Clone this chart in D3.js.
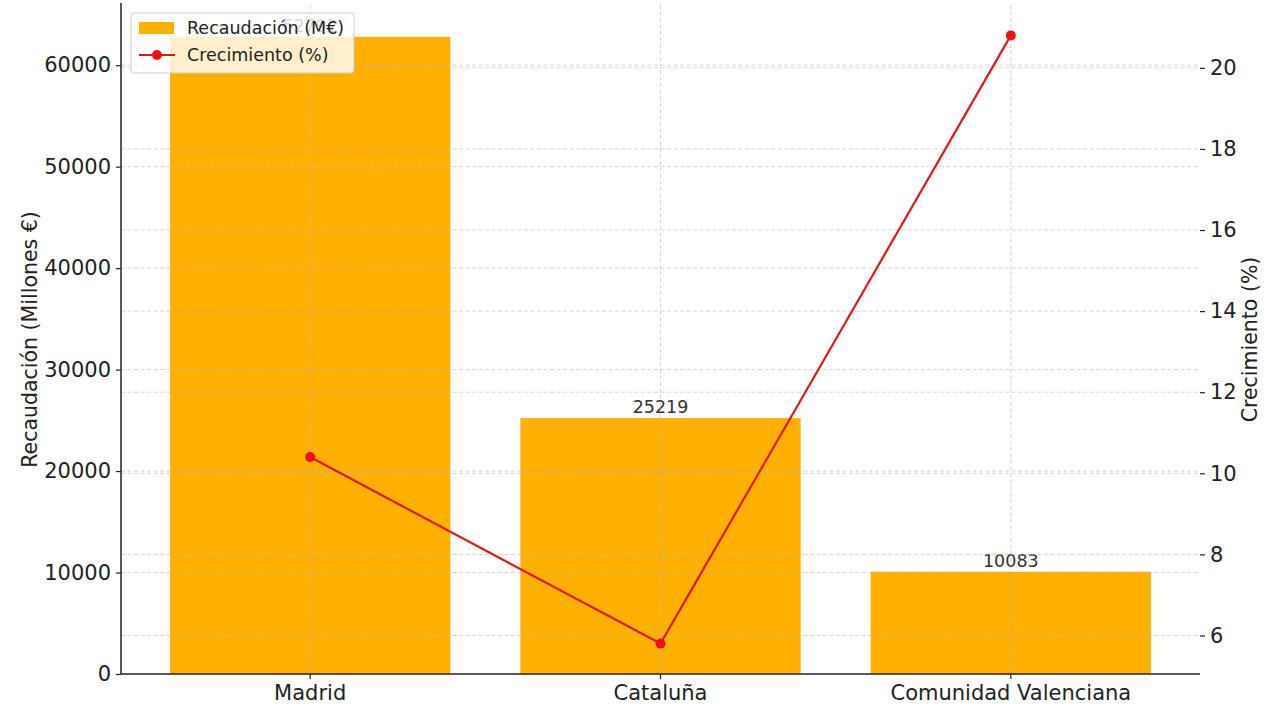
<!DOCTYPE html>
<html>
<head>
<meta charset="utf-8">
<script src="https://cdn.jsdelivr.net/npm/d3@7"></script>
<style>
  html, body { margin: 0; padding: 0; background: #fff; }
  svg { display: block; font-family: "DejaVu Sans", sans-serif; }
</style>
</head>
<body>
<svg id="chart" width="1280" height="720"></svg>
<script>
const categories = ["Madrid", "Cataluña", "Comunidad Valenciana"];
const recaudacion = [62792, 25219, 10083];
const crecimiento = [10.4, 5.8, 20.8];
const leftTicks = [0, 10000, 20000, 30000, 40000, 50000, 60000];
const rightTicks = [6, 8, 10, 12, 14, 16, 18, 20];

const svg = d3.select("#chart");
const L = 121, R = 1200, T = 5, B = 674;

const x = d3.scaleBand().domain(categories).range([L, R]).paddingInner(0.2).paddingOuter(0.14);
const yL = d3.scaleLinear().domain([0, d3.max(recaudacion) * 1.05]).range([B, T]);
const cMin = d3.min(crecimiento), cMax = d3.max(crecimiento), cPad = (cMax - cMin) * 0.05;
const yR = d3.scaleLinear().domain([cMin - cPad, cMax + cPad]).range([B, T]);

// bars
svg.append("g").selectAll("rect").data(categories).join("rect")
  .attr("x", d => x(d)).attr("width", x.bandwidth())
  .attr("y", (d, i) => yL(recaudacion[i]))
  .attr("height", (d, i) => B - yL(recaudacion[i]))
  .attr("fill", "#FFB000");

// bar labels
svg.append("g").selectAll("text").data(categories).join("text")
  .attr("x", d => x(d) + x.bandwidth() / 2)
  .attr("y", (d, i) => yL(recaudacion[i]) - 5)
  .attr("text-anchor", "middle")
  .attr("font-size", 17.5).attr("fill", "#333")
  .text((d, i) => recaudacion[i]);

// grid (on top of bars, translucent)
const grid = svg.append("g").attr("stroke", "#b0b0b0").attr("stroke-opacity", 0.55)
  .attr("stroke-width", 1).attr("stroke-dasharray", "4,2.5");
grid.selectAll(".gl").data(leftTicks.filter(t => t > 0)).join("line")
  .attr("x1", L).attr("x2", R).attr("y1", d => yL(d)).attr("y2", d => yL(d));
grid.selectAll(".gr").data(rightTicks).join("line").attr("class", "gr")
  .attr("x1", L).attr("x2", R).attr("y1", d => yR(d)).attr("y2", d => yR(d));
grid.selectAll(".gv").data(categories).join("line").attr("class", "gv")
  .attr("x1", d => x(d) + x.bandwidth() / 2).attr("x2", d => x(d) + x.bandwidth() / 2)
  .attr("y1", T).attr("y2", B);

// axes
const axL = svg.append("g").attr("transform", `translate(${L},0)`)
  .call(d3.axisLeft(yL).tickValues(leftTicks).tickSize(5).tickPadding(5).tickFormat(d3.format("d")));
const axR = svg.append("g").attr("transform", `translate(${R},0)`)
  .call(d3.axisRight(yR).tickValues(rightTicks).tickSize(5).tickPadding(5).tickFormat(d3.format("d")));
const axB = svg.append("g").attr("transform", `translate(0,${B})`)
  .call(d3.axisBottom(x).tickSize(5).tickPadding(6));
[axL, axR, axB].forEach(a => {
  a.selectAll("text").attr("font-size", 21).attr("fill", "#222").attr("font-family", "DejaVu Sans");
  a.selectAll(".tick line").attr("stroke", "#222").attr("stroke-width", 1.2);
});
axL.select(".domain").attr("stroke", "#222").attr("stroke-width", 1.5).attr("d", `M0,${B}V${T - 2}`);
axR.select(".domain").remove();
axB.select(".domain").attr("stroke", "#222").attr("stroke-width", 1.5).attr("d", `M${L},0H${R}`);

// axis titles
svg.append("text").attr("transform", `translate(37,${(T + B) / 2}) rotate(-90)`)
  .attr("text-anchor", "middle").attr("font-size", 20.5).attr("fill", "#222")
  .text("Recaudación (Millones €)");
svg.append("text").attr("transform", `translate(1257,${(T + B) / 2}) rotate(-90)`)
  .attr("text-anchor", "middle").attr("font-size", 20.5).attr("fill", "#222")
  .text("Crecimiento (%)");

// line
const cx = d => x(d) + x.bandwidth() / 2;
svg.append("path").datum(categories)
  .attr("d", d3.line().x(d => cx(d)).y((d, i) => yR(crecimiento[i])))
  .attr("fill", "none").attr("stroke", "#e01818").attr("stroke-width", 2.2);
svg.append("g").selectAll("circle").data(categories).join("circle")
  .attr("cx", d => cx(d)).attr("cy", (d, i) => yR(crecimiento[i]))
  .attr("r", 5).attr("fill", "#f01010");

// legend
const lg = svg.append("g");
lg.append("rect").attr("x", 131).attr("y", 13).attr("width", 223).attr("height", 60).attr("rx", 3)
  .attr("fill", "#fff").attr("fill-opacity", 0.8).attr("stroke", "#ccc").attr("stroke-width", 1);
lg.append("rect").attr("x", 139).attr("y", 22).attr("width", 35).attr("height", 12).attr("fill", "#FFB000");
lg.append("text").attr("x", 187).attr("y", 34).attr("font-size", 17.5).attr("fill", "#222").text("Recaudación (M€)");
lg.append("line").attr("x1", 139).attr("x2", 175).attr("y1", 55).attr("y2", 55)
  .attr("stroke", "#e01818").attr("stroke-width", 2.2);
lg.append("circle").attr("cx", 157).attr("cy", 55).attr("r", 5).attr("fill", "#f01010");
lg.append("text").attr("x", 187).attr("y", 61).attr("font-size", 17.5).attr("fill", "#222").text("Crecimiento (%)");
</script>
</body>
</html>
